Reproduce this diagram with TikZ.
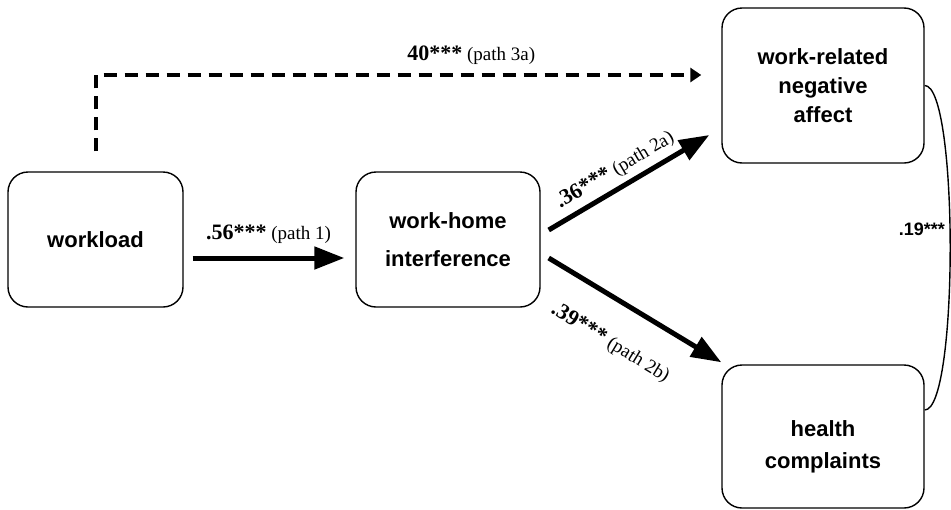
\documentclass[tikz,border=0pt]{standalone}
\usepackage{fontspec}
\setmainfont{Liberation Sans}
\newfontfamily\tnr{Liberation Serif}
\usetikzlibrary{arrows.meta}
\newcommand{\numbf}[1]{{\bfseries\fontsize{22}{22}\selectfont #1}}
\begin{document}
\begin{tikzpicture}[x=1pt,y=-1pt,
  box/.style={draw, line width=1.4pt, rounded corners=20pt, align=center,
    font=\fontsize{22}{30}\selectfont\bfseries, inner sep=0pt},
  bigarrow/.style={line width=5pt, -{Triangle[length=30pt,width=22pt]}},
  dasharrow/.style={line width=4pt, dash pattern=on 13pt off 8pt,
    -{Triangle[length=11pt,width=14pt]}},
  lab/.style={font=\tnr\fontsize{19}{22}\selectfont, inner sep=0pt},
  corr/.style={line width=1.4pt},
]
\useasboundingbox (0,0) rectangle (951,509);

\node[box, minimum width=175pt, minimum height=135pt] (wl) at (95.5,239.5) {workload};
\node[box, minimum width=184pt, minimum height=135pt, font=\fontsize{22}{38}\selectfont\bfseries] (wh) at (448,239.5) {work-home\\interference};
\node[box, minimum width=202pt, minimum height=155pt, font=\fontsize{22}{29}\selectfont\bfseries] (na) at (823,85.5) {work-related\\negative\\affect};
\node[box, minimum width=202pt, minimum height=143pt, font=\fontsize{22}{32}\selectfont\bfseries] (hc) at (823,436.5) {\rule{0pt}{36pt}health\\complaints};

% path 1
\draw[bigarrow] ([shift={(9,18.5)}]wl.east) -- ([shift={(-11,18.5)}]wh.west)
  node[midway, above=12pt, lab] (l1) {\numbf{.56***} (path 1)};

% path 2a
\draw[bigarrow] ([shift={(8,-9.5)}]wh.east) -- ([shift={(-12,49.5)}]na.west)
  node[pos=0.47, sloped, above=6pt, lab] (l2a) {\numbf{.36***} (path 2a)};

% path 2b
\draw[bigarrow] ([shift={(8,18.5)}]wh.east) -- ([shift={(0,-2)}]hc.north west)
  node[pos=0.48, sloped, below=29pt, lab] (l2b) {\numbf{.39***} (path 2b)};

% path 3a
\draw[dasharrow] ([shift={(0.5,-20)}]wl.north) |- ([shift={(-20,-10.5)}]na.west)
  node[pos=0.81, above=8pt, lab] (l3a) {\numbf{40***} (path 3a)};

% correlation
\draw[corr] (na.east) .. controls +(34,0) and +(34,0) .. ([yshift=26.5]hc.east);
\node[anchor=east, inner sep=0pt, font=\fontsize{18}{20}\selectfont\bfseries] (r) at (945,229) {.19***};
\end{tikzpicture}
\end{document}
